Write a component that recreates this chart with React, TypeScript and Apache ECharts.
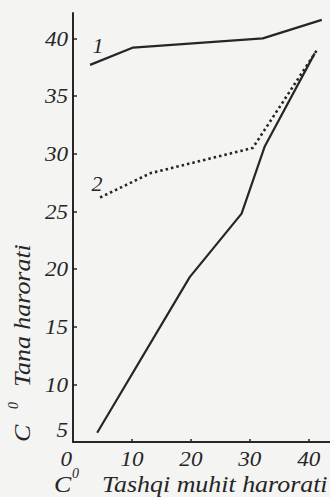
import React, { useEffect, useRef } from "react";
import * as echarts from "echarts";

const xTicks = [0, 10, 20, 30, 40];
const yTicks = [5, 10, 15, 20, 25, 30, 35, 40];

const curve1X = [2.9, 10.2, 32.2, 42.2];
const curve1Y = [37.7, 39.2, 40.0, 41.6];

const curve2X = [4.6, 13.1, 30.5, 41.4];
const curve2Y = [26.2, 28.3, 30.5, 39.0];

const curve3X = [4.1, 19.8, 28.6, 32.5, 41.0];
const curve3Y = [5.8, 19.3, 24.8, 30.6, 38.7];

const xTitle = "Tashqi muhit harorati";
const yTitle = "Tana harorati";
const unit = "C";
const unitSup = "0";

const pair = (xs: number[], ys: number[]) => xs.map((x, i) => [x, ys[i]]);

const FONT = "Liberation Serif";
const INK = "#262626";

export default function App() {
  const ref = useRef<HTMLDivElement>(null);
  useEffect(() => {
    if (!ref.current) return;
    const chart = echarts.init(ref.current, undefined, { renderer: "svg" });
    const txt = (extra: any) => ({
      type: "text",
      silent: true,
      ...extra,
      style: {
        fontFamily: FONT,
        fontStyle: "italic",
        fill: INK,
        ...extra.style,
      },
    });
    chart.setOption({
      animation: false,
      backgroundColor: "#f4f4f2",
      grid: { left: 73, right: 0, top: 13, bottom: 55, containLabel: false },
      xAxis: {
        type: "value",
        min: 0,
        max: 43.6,
        interval: 10,
        splitLine: { show: false },
        axisLine: { show: true, lineStyle: { color: INK, width: 2 } },
        axisTick: {
          show: true,
          inside: true,
          length: 3,
          customValues: xTicks,
          lineStyle: { color: INK, width: 1.5 },
        },
        axisLabel: { show: false },
      },
      yAxis: {
        type: "value",
        min: 5,
        max: 42.2,
        interval: 5,
        splitLine: { show: false },
        axisLine: { show: true, lineStyle: { color: INK, width: 2 } },
        axisTick: {
          show: true,
          inside: true,
          length: 4,
          customValues: yTicks.filter((v) => v !== 5),
          lineStyle: { color: INK, width: 1.5 },
        },
        axisLabel: { show: false },
      },
      series: [
        {
          type: "line",
          data: pair(curve1X, curve1Y),
          symbol: "none",
          lineStyle: { color: INK, width: 2.2 },
        },
        {
          type: "line",
          data: pair(curve2X, curve2Y),
          symbol: "none",
          lineStyle: { color: INK, width: 2.6, type: [2.5, 3] },
        },
        {
          type: "line",
          data: pair(curve3X, curve3Y),
          symbol: "none",
          lineStyle: { color: INK, width: 2.2 },
        },
      ],
    });

    const x0 = chart.convertToPixel({ xAxisIndex: 0 }, xTicks[0]) as number;
    const yBase = chart.convertToPixel({ yAxisIndex: 0 }, yTicks[0]) as number;

    const xLabels = xTicks.map((v, i) => {
      const px = chart.convertToPixel({ xAxisIndex: 0 }, v) as number;
      return txt({
        x: i === 0 ? px - 1 : px,
        y: yBase + 6,
        scaleX: 1.05,
        style: { text: String(v), fontSize: 22, align: i === 0 ? "right" : "center", verticalAlign: "top" },
      });
    });
    const yLabels = yTicks.map((v, i) => {
      const py = chart.convertToPixel({ yAxisIndex: 0 }, v) as number;
      return txt({
        x: x0 - 5,
        y: i === 0 ? py - 1 : py,
        scaleX: 1.05,
        style: { text: String(v), fontSize: 22, align: "right", verticalAlign: i === 0 ? "bottom" : "middle" },
      });
    });

    chart.setOption({
      graphic: [
        ...xLabels,
        ...yLabels,
        txt({ x: 98, y: 45, style: { text: "1", fontSize: 22, align: "center", verticalAlign: "middle" } }),
        txt({ x: 97, y: 183, style: { text: "2", fontSize: 22, align: "center", verticalAlign: "middle" } }),
        // x title
        txt({ x: 54, y: 484, scaleX: 1.08, style: { text: unit, fontSize: 24, align: "left", verticalAlign: "middle" } }),
        txt({ x: 72, y: 473, style: { text: unitSup, fontSize: 14, align: "left", verticalAlign: "middle" } }),
        txt({ x: 102, y: 484, scaleX: 1.08, style: { text: xTitle, fontSize: 24, align: "left", verticalAlign: "middle" } }),
        // y title (rotated)
        txt({ x: 22, y: 442, rotation: Math.PI / 2, scaleX: 1.08, style: { text: unit, fontSize: 24, align: "left", verticalAlign: "middle" } }),
        txt({ x: 13, y: 409, rotation: Math.PI / 2, style: { text: unitSup, fontSize: 14, align: "left", verticalAlign: "middle" } }),
        txt({ x: 22, y: 387, rotation: Math.PI / 2, scaleX: 1.08, style: { text: yTitle, fontSize: 24, align: "left", verticalAlign: "middle" } }),
      ],
    });
    return () => chart.dispose();
  }, []);
  return (
    <div
      ref={ref}
      style={{ position: "fixed", left: 0, top: 0, width: 330, height: 497 }}
    />
  );
}
